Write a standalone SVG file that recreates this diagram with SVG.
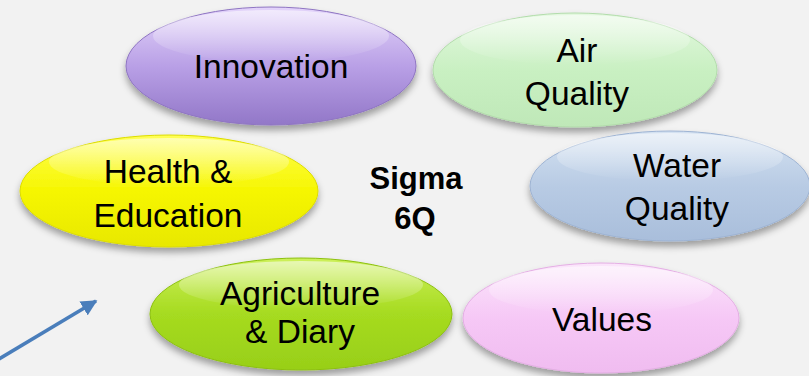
<svg xmlns="http://www.w3.org/2000/svg" width="809" height="376" viewBox="0 0 809 376">
<style>
.lbl{font-family:"Liberation Sans",Arial,sans-serif;font-size:33.5px;fill:#000;text-anchor:middle}
.ctr{font-family:"Liberation Sans",Arial,sans-serif;font-size:31px;font-weight:bold;fill:#000;text-anchor:middle}
.node ellipse.body{filter:url(#sh)}
.gloss{fill:url(#gl)}
</style>
<defs>
<filter id="sh" x="-10%" y="-20%" width="120%" height="150%">
<feDropShadow dx="0" dy="5" stdDeviation="3.5" flood-color="#000" flood-opacity="0.35"/>
</filter>
<linearGradient id="gl" x1="0" y1="0" x2="0" y2="1">
<stop offset="0" stop-color="#fff" stop-opacity="0.55"/>
<stop offset="1" stop-color="#fff" stop-opacity="0"/>
</linearGradient>
<linearGradient id="gInn" x1="0" y1="0" x2="0" y2="1">
<stop offset="0" stop-color="#e3d4fa"/><stop offset="0.5" stop-color="#b9a0e6"/><stop offset="1" stop-color="#9277c8"/>
</linearGradient>
<linearGradient id="gAir" x1="0" y1="0" x2="0" y2="1">
<stop offset="0" stop-color="#e4f8e0"/><stop offset="0.5" stop-color="#c9f0c2"/><stop offset="1" stop-color="#bfe8b8"/>
</linearGradient>
<linearGradient id="gWat" x1="0" y1="0" x2="0" y2="1">
<stop offset="0" stop-color="#d5e2f1"/><stop offset="0.5" stop-color="#b8cbe4"/><stop offset="1" stop-color="#a9bedb"/>
</linearGradient>
<linearGradient id="gHea" x1="0" y1="0" x2="0" y2="1">
<stop offset="0" stop-color="#ffff55"/><stop offset="0.5" stop-color="#f6f600"/><stop offset="1" stop-color="#e8e800"/>
</linearGradient>
<linearGradient id="gAgr" x1="0" y1="0" x2="0" y2="1">
<stop offset="0" stop-color="#cdf05a"/><stop offset="0.5" stop-color="#a6db20"/><stop offset="1" stop-color="#98cf18"/>
</linearGradient>
<linearGradient id="gVal" x1="0" y1="0" x2="0" y2="1">
<stop offset="0" stop-color="#fbe6fb"/><stop offset="0.5" stop-color="#f6c8f6"/><stop offset="1" stop-color="#f0bcf0"/>
</linearGradient>
<marker id="ah" viewBox="0 0 10 10" refX="9" refY="5" markerWidth="4.6" markerHeight="4.6" orient="auto" markerUnits="strokeWidth">
<path d="M0,0 L10,5 L0,10 Z" fill="#4a7ebb"/>
</marker>
</defs>
<rect width="809" height="376" fill="#f2f2f2"/>

<g id="innovation" class="node">
<ellipse class="body" cx="271" cy="66" rx="145" ry="59" fill="url(#gInn)" stroke="#8e74c2" stroke-width="1"/>
<ellipse class="gloss" cx="271" cy="36" rx="118" ry="26"/>
<text class="lbl" x="271" y="78">Innovation</text>
</g>

<g id="air-quality" class="node">
<ellipse class="body" cx="575" cy="70" rx="142" ry="57" fill="url(#gAir)" stroke="#b2dcab" stroke-width="1"/>
<ellipse class="gloss" cx="575" cy="40" rx="115" ry="25"/>
<text class="lbl" x="577" y="62">Air</text>
<text class="lbl" x="577" y="105">Quality</text>
</g>

<g id="water-quality" class="node">
<ellipse class="body" cx="670" cy="186" rx="140" ry="55" fill="url(#gWat)" stroke="#9db3d3" stroke-width="1"/>
<ellipse class="gloss" cx="670" cy="157" rx="113" ry="24"/>
<text class="lbl" x="677" y="177">Water</text>
<text class="lbl" x="677" y="220">Quality</text>
</g>

<g id="health-education" class="node">
<ellipse class="body" cx="169" cy="191" rx="149" ry="56" fill="url(#gHea)" stroke="#dcdc00" stroke-width="1"/>
<ellipse class="gloss" cx="169" cy="162" rx="120" ry="24"/>
<text class="lbl" x="168" y="183">Health &amp;</text>
<text class="lbl" x="168" y="227">Education</text>
</g>

<g id="agriculture-diary" class="node">
<ellipse class="body" cx="301" cy="314" rx="151" ry="56" fill="url(#gAgr)" stroke="#8cc010" stroke-width="1"/>
<ellipse class="gloss" cx="301" cy="285" rx="122" ry="24"/>
<text class="lbl" x="300" y="305">Agriculture</text>
<text class="lbl" x="300" y="343">&amp; Diary</text>
</g>

<g id="values" class="node">
<ellipse class="body" cx="601" cy="318" rx="138" ry="55" fill="url(#gVal)" stroke="#e4aee4" stroke-width="1"/>
<ellipse class="gloss" cx="601" cy="290" rx="112" ry="24"/>
<text class="lbl" x="602" y="331">Values</text>
</g>

<g id="sigma-6q">
<text class="ctr" x="416" y="189">Sigma</text>
<text class="ctr" x="415" y="229">6Q</text>
</g>

<g id="connectors">
<line x1="-6" y1="362" x2="96" y2="301" stroke="#4a7ebb" stroke-width="3.5" marker-end="url(#ah)"/>
</g>
</svg>
